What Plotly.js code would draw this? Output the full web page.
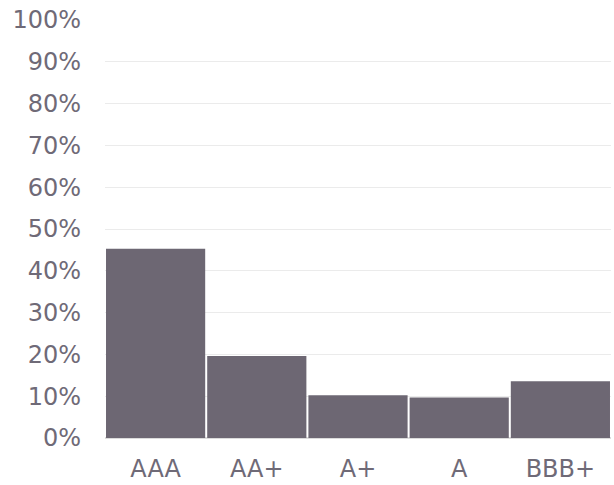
<!DOCTYPE html>
<html><head><meta charset="utf-8">
<script src="https://cdn.plot.ly/plotly-3.0.1.min.js"></script>
<style>html,body{margin:0;padding:0;background:#fff}</style>
</head><body>
<div id="chart" style="width:614px;height:485px"></div>
<script>
const categories = ["AAA", "AA+", "A+", "A", "BBB+"];
const shares = [0.453, 0.196, 0.102, 0.097, 0.136];
const yTickVals = [0, 0.1, 0.2, 0.3, 0.4, 0.5, 0.6, 0.7, 0.8, 0.9, 1.0];

const tickFont = {family: "DejaVu Sans", size: 24, color: "#6f6a77"};

Plotly.newPlot("chart", [{
  type: "bar",
  x: categories,
  y: shares,
  marker: {color: "#6d6773", line: {width: 0}},
  hoverinfo: "skip"
}], {
  width: 614, height: 485,
  margin: {l: 105, r: 3, t: 20, b: 47},
  bargap: 0.02,
  paper_bgcolor: "#fff", plot_bgcolor: "#fff",
  font: tickFont,
  showlegend: false,
  xaxis: {
    type: "category",
    showgrid: false, showline: false, zeroline: false,
    ticks: "", ticklabelstandoff: 14,
    tickfont: tickFont
  },
  yaxis: {
    range: [0, 1], tickvals: yTickVals, tickformat: ".0%",
    showgrid: true, gridcolor: "#ebebeb", gridwidth: 1,
    zeroline: true, zerolinecolor: "#dcdcdc", zerolinewidth: 2,
    showline: false, ticks: "", ticklabelstandoff: 23,
    tickfont: tickFont
  }
}, {displayModeBar: false, staticPlot: true});
</script>
</body></html>
